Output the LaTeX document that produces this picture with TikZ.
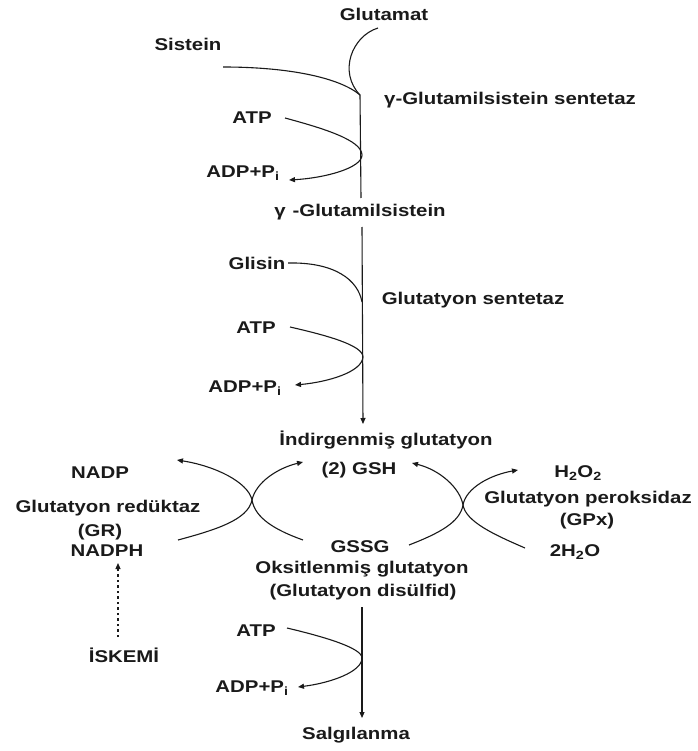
\documentclass[tikz,border=0pt]{standalone}
\usepackage{fontspec}
\setmainfont{Liberation Sans}[FakeStretch=1.2]
\usetikzlibrary{arrows.meta}
\definecolor{ink}{HTML}{1A1A1A}
\begin{document}
\begin{tikzpicture}[x=1pt,y=-1pt,
  lbl/.style={font=\fontsize{17}{20}\selectfont\bfseries, text=ink, inner sep=0pt},
  conn/.style={draw=ink, line width=1.1pt},
  arr/.style={conn, -{Triangle[length=6pt,width=5pt]}},
  dots/.style={arr, dash pattern=on 2.5pt off 3pt}]
\fill[white] (0,0) rectangle (697,751);
\useasboundingbox (0,0) rectangle (697,751);

% labels
\node[lbl] (glutamat) at (384,14) {Glutamat};
\node[lbl] (sistein) at (188,44) {Sistein};
\node[lbl] (enz1) at (510,100) {γ-Glutamilsistein sentetaz};
\node[lbl] (atp1) at (252,118) {ATP};
\node[lbl] (adp1) at (243,173) {ADP+P\textsubscript{i}};
\node[lbl] (gglu) at (360,212) {γ\hspace{7pt}-Glutamilsistein};
\node[lbl] (glisin) at (257,263) {Glisin};
\node[lbl] (enz2) at (473,300) {Glutatyon sentetaz};
\node[lbl] (atp2) at (256,328) {ATP};
\node[lbl] (adp2) at (245,388) {ADP+P\textsubscript{i}};
\node[lbl] (indir) at (386,440) {İndirgenmiş glutatyon};
\node[lbl] (gsh) at (359,470) {(2) GSH};
\node[lbl] (nadp) at (100,473) {NADP};
\node[lbl] (h2o2) at (578,473) {H\textsubscript{2}O\textsubscript{2}};
\node[lbl] (gr) at (108,508) {Glutatyon redüktaz};
\node[lbl] (gpx) at (588,499) {Glutatyon peroksidaz};
\node[lbl] (grab) at (100,532) {(GR)};
\node[lbl] (gpxab) at (587,521) {(GPx)};
\node[lbl] (nadph) at (107,551) {NADPH};
\node[lbl] (gssg) at (360,547) {GSSG};
\node[lbl] (h2o) at (575,552) {2H\textsubscript{2}O};
\node[lbl] (oks) at (362,569) {Oksitlenmiş glutatyon};
\node[lbl] (disulf) at (363,592) {(Glutatyon disülfid)};
\node[lbl] (atp3) at (256,631) {ATP};
\node[lbl] (iskemi) at (124,655) {İSKEMİ};
\node[lbl] (adp3) at (252,688) {ADP+P\textsubscript{i}};
\node[lbl] (salg) at (356,735) {Salgılanma};

% junction / end coordinates
\coordinate (gs) at (378,28);
\coordinate (ss) at (223,67);
\coordinate (j1) at (360,95);
\coordinate (a1s) at (285,118);
\coordinate (t1) at (362,155);
\coordinate (a1e) at (289,180);
\coordinate (b1) at (361,198);
\coordinate (b2) at (362,227);
\coordinate (gls) at (288,263);
\coordinate (j2) at (362,302);
\coordinate (a2s) at (290,327);
\coordinate (t2) at (363,357);
\coordinate (a2e) at (295,385);
\coordinate (e2) at (363,424);
\coordinate (cx1) at (252,500);
\coordinate (cx2) at (463,505);
\coordinate (la) at (178,540);
\coordinate (lb) at (303,540);
\coordinate (ra) at (409,545);
\coordinate (rb) at (525,548);
\coordinate (na) at (303,462);
\coordinate (nb) at (177,460);
\coordinate (ga) at (518,470);
\coordinate (gb) at (412,463);
\coordinate (ds) at (118,637);
\coordinate (de) at (118,563);
\coordinate (b3) at (362,607);
\coordinate (a3s) at (287,628);
\coordinate (t3) at (362,658);
\coordinate (a3e) at (298,687);
\coordinate (e3) at (362,718);

% main line
\draw[conn] (j1) -- (b1);
\draw[arr] (b2) -- (e2);
\draw[arr] (b3) -- (e3);

% substrates
\draw[conn] (gs) .. controls (352,36) and (338,72) .. (j1);
\draw[conn] (ss) .. controls (290,67) and (340,78) .. (j1);
\draw[conn] (gls) .. controls (335,262) and (358,280) .. (j2);

% ATP loops
\draw[arr] (a1s) .. controls (322,128) and (362,140) .. (t1) .. controls (362,168) and (325,178) .. (a1e);
\draw[arr] (a2s) .. controls (325,335) and (363,345) .. (t2) .. controls (362,372) and (328,382) .. (a2e);
\draw[arr] (a3s) .. controls (325,637) and (362,648) .. (t3) .. controls (362,672) and (330,683) .. (a3e);

% cycle left (GR)
\draw[arr] (la) .. controls (215,530) and (248,520) .. (cx1) .. controls (256,482) and (278,468) .. (na);
\draw[arr] (lb) .. controls (275,530) and (255,518) .. (cx1) .. controls (248,482) and (215,466) .. (nb);
% cycle right (GPx)
\draw[arr] (ra) .. controls (440,533) and (460,522) .. (cx2) .. controls (466,488) and (490,475) .. (ga);
\draw[arr] (rb) .. controls (495,535) and (466,522) .. (cx2) .. controls (460,488) and (440,470) .. (gb);

% ischemia
\draw[dots] (ds) -- (de);
\end{tikzpicture}
\end{document}
